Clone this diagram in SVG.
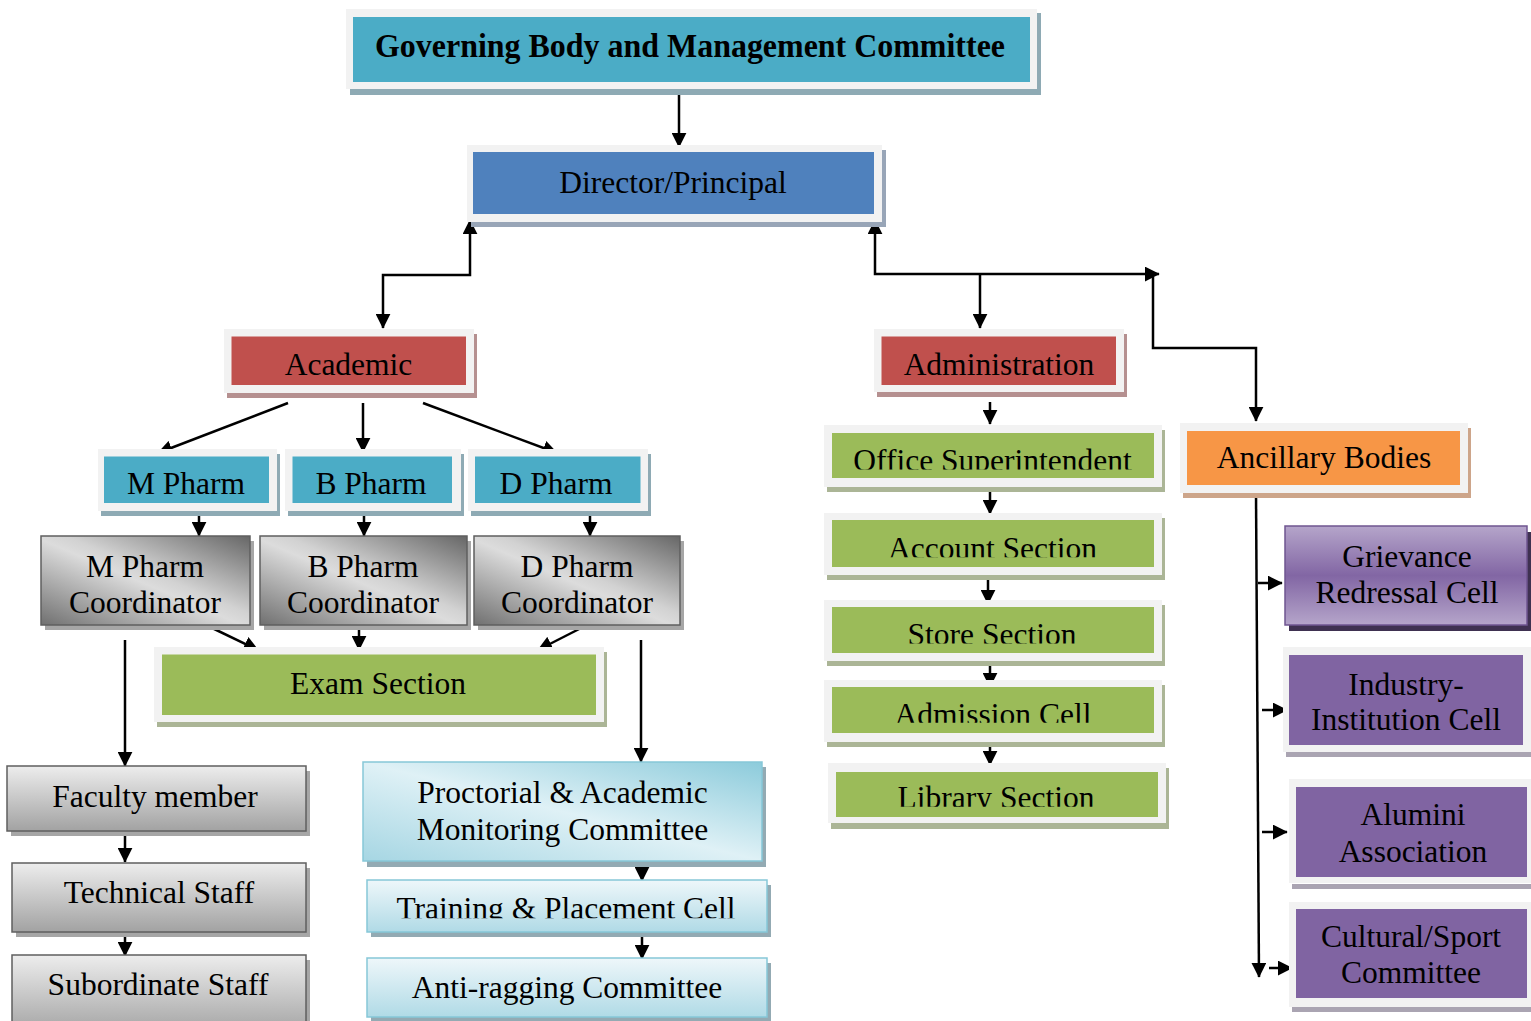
<svg xmlns="http://www.w3.org/2000/svg" width="1531" height="1021" viewBox="0 0 1531 1021">
<style>
text{font-family:"Liberation Serif","Times New Roman",serif;font-size:31.5px;fill:#000;text-anchor:middle}
.title{font-weight:bold;font-size:34px}
.fr{fill:#f2f2f2}
.teal{fill:#4bacc6}.blue{fill:#4f81bd}.red{fill:#c0504d}.green{fill:#9bbb59}.orange{fill:#f79646}.purple{fill:#8064a2}
.shT{fill:#8eaab4}.shB{fill:#98a5b7}.shR{fill:#b59090}.shG{fill:#abb596}.shO{fill:#cda58a}.shP{fill:#aaa4b2}.shK{fill:#a6a6a6}.shC{fill:#93aab3}.shD{fill:#3f3151}
.coord{fill:url(#gCoord);stroke:#5f5f5f;stroke-width:1.5}
.staff{fill:url(#gStaff);stroke:#5f5f5f;stroke-width:1.5}
.proct{fill:url(#gProct);stroke:#86c7d8;stroke-width:1.5}
.train{fill:url(#gTrain);stroke:#86c7d8;stroke-width:1.5}
.griev{fill:url(#gGriev);stroke:#6f5590;stroke-width:1.5}
.ln2{fill:none;stroke:#000;stroke-width:2.5}
</style>
<defs>
<marker id="ah" viewBox="0 0 10 10" refX="9.5" refY="5" markerWidth="6" markerHeight="6" markerUnits="strokeWidth" orient="auto-start-reverse"><path d="M0,0 L10,5 L0,10 z" fill="#000" stroke="none"/></marker>
<linearGradient id="gCoord" x1="0" y1="1" x2="1" y2="0"><stop offset="0" stop-color="#707070"/><stop offset="0.48" stop-color="#dcdcdc"/><stop offset="0.56" stop-color="#d2d2d2"/><stop offset="1" stop-color="#666"/></linearGradient>
<linearGradient id="gStaff" x1="0" y1="0" x2="0" y2="1"><stop offset="0" stop-color="#ededed"/><stop offset="1" stop-color="#a2a2a2"/></linearGradient>
<linearGradient id="gProct" x1="0" y1="1" x2="1" y2="0"><stop offset="0" stop-color="#a6d6e3"/><stop offset="0.5" stop-color="#dff1f6"/><stop offset="1" stop-color="#8ccbdb"/></linearGradient>
<linearGradient id="gTrain" x1="0" y1="0" x2="0" y2="1"><stop offset="0" stop-color="#eef7fa"/><stop offset="1" stop-color="#b0dae6"/></linearGradient>
<linearGradient id="gGriev" x1="0" y1="0" x2="0" y2="1"><stop offset="0" stop-color="#b5a5ca"/><stop offset="0.5" stop-color="#8266a4"/><stop offset="1" stop-color="#b5a5ca"/></linearGradient>
<clipPath id="cOff"><rect x="820" y="420" width="350" height="49.5"/></clipPath>
<clipPath id="cAcc"><rect x="820" y="510" width="350" height="47.3"/></clipPath>
<clipPath id="cSto"><rect x="820" y="596" width="350" height="47.5"/></clipPath>
<clipPath id="cAdm"><rect x="820" y="676" width="350" height="46.8"/></clipPath>
<clipPath id="cLib"><rect x="820" y="760" width="350" height="46.8"/></clipPath>
<clipPath id="cTrn"><rect x="360" y="876" width="410" height="42.3"/></clipPath>
</defs>

<g id="connectors">
<path class="ln2" marker-end="url(#ah)" d="M679,86 L679,147"/>
<path class="ln2" marker-start="url(#ah)" marker-end="url(#ah)" d="M470,220 L470,275 L383,275 L383,328"/>
<path class="ln2" marker-start="url(#ah)" marker-end="url(#ah)" d="M875,220 L875,274 L1159,274"/>
<path class="ln2" marker-end="url(#ah)" d="M980,274 L980,328"/>
<path class="ln2" marker-end="url(#ah)" d="M1153,277 L1153,348 L1256,348 L1256,421"/>
<path class="ln2" marker-end="url(#ah)" d="M288,403 L158,453"/>
<path class="ln2" marker-end="url(#ah)" d="M363,403 L363,452"/>
<path class="ln2" marker-end="url(#ah)" d="M423,403 L557,453"/>
<path class="ln2" marker-end="url(#ah)" d="M199,514 L199,536"/>
<path class="ln2" marker-end="url(#ah)" d="M364,514 L364,536"/>
<path class="ln2" marker-end="url(#ah)" d="M590,514 L590,536"/>
<path class="ln2" marker-end="url(#ah)" d="M208,626 L258,650"/>
<path class="ln2" marker-end="url(#ah)" d="M359,626 L359,650"/>
<path class="ln2" marker-end="url(#ah)" d="M587,625 L538,650"/>
<path class="ln2" marker-end="url(#ah)" d="M125,640 L125,766"/>
<path class="ln2" marker-end="url(#ah)" d="M641,640 L641,762"/>
<path class="ln2" marker-end="url(#ah)" d="M125,831 L125,862"/>
<path class="ln2" marker-end="url(#ah)" d="M125,932 L125,956"/>
<path class="ln2" marker-end="url(#ah)" d="M642,861 L642,881"/>
<path class="ln2" marker-end="url(#ah)" d="M642,932 L642,959"/>
<path class="ln2" marker-end="url(#ah)" d="M990,402 L990,424"/>
<path class="ln2" marker-end="url(#ah)" d="M990,492 L990,514"/>
<path class="ln2" marker-end="url(#ah)" d="M988,580 L988,604"/>
<path class="ln2" marker-end="url(#ah)" d="M990,664 L990,687"/>
<path class="ln2" marker-end="url(#ah)" d="M990,744 L990,765"/>
<path class="ln2" marker-end="url(#ah)" d="M1256,493 L1259,977"/>
<path class="ln2" marker-end="url(#ah)" d="M1258,583 L1282,583"/>
<path class="ln2" marker-end="url(#ah)" d="M1262,710 L1287,710"/>
<path class="ln2" marker-end="url(#ah)" d="M1262,832 L1287,832"/>
<path class="ln2" marker-end="url(#ah)" d="M1269,968 L1292,968"/>
</g>

<g id="governing">
<rect class="shT" x="350" y="13" width="691" height="82"/>
<rect class="fr" x="346" y="9" width="691" height="80"/>
<rect class="teal" x="353" y="17" width="677" height="65"/>
<text class="title" x="690" y="57" textLength="630" lengthAdjust="spacingAndGlyphs">Governing Body and Management Committee</text>
</g>

<g id="director">
<rect class="shB" x="471" y="150" width="415" height="77"/>
<rect class="fr" x="467" y="145" width="415" height="77"/>
<rect class="blue" x="473" y="152" width="401" height="62"/>
<text x="673" y="193">Director/Principal</text>
</g>

<g id="academic">
<rect class="shR" x="227" y="334" width="250" height="64"/>
<rect class="fr" x="224" y="329" width="250" height="64"/>
<rect class="red" x="231.5" y="336.5" width="234.5" height="48.5"/>
<text x="348.5" y="375">Academic</text>
</g>

<g id="administration">
<rect class="shR" x="877" y="334" width="250" height="63"/>
<rect class="fr" x="874" y="329" width="250" height="63"/>
<rect class="red" x="881.5" y="336.5" width="234.5" height="48.5"/>
<text x="999" y="375">Administration</text>
</g>

<g id="mpharm">
<rect class="shT" x="101" y="454" width="179" height="62"/>
<rect class="fr" x="98" y="449" width="179" height="62"/>
<rect class="teal" x="104" y="456.5" width="165" height="46.5"/>
<text x="186" y="494">M Pharm</text>
</g>
<g id="bpharm">
<rect class="shT" x="288" y="454" width="176" height="62"/>
<rect class="fr" x="285" y="449" width="176" height="62"/>
<rect class="teal" x="292.5" y="456.5" width="159.5" height="46.5"/>
<text x="371" y="494">B Pharm</text>
</g>
<g id="dpharm">
<rect class="shT" x="471" y="454" width="180" height="62"/>
<rect class="fr" x="468" y="449" width="180" height="62"/>
<rect class="teal" x="475" y="456.5" width="165.5" height="46.5"/>
<text x="556" y="494">D Pharm</text>
</g>

<g id="mcoord">
<rect class="shK" x="45" y="541" width="209" height="89"/>
<rect class="coord" x="41" y="536" width="209" height="89"/>
<text x="145" y="577">M Pharm</text>
<text x="145" y="613">Coordinator</text>
</g>
<g id="bcoord">
<rect class="shK" x="264" y="541" width="207" height="89"/>
<rect class="coord" x="260" y="536" width="207" height="89"/>
<text x="363" y="577">B Pharm</text>
<text x="363" y="613">Coordinator</text>
</g>
<g id="dcoord">
<rect class="shK" x="478" y="541" width="206" height="89"/>
<rect class="coord" x="474" y="536" width="206" height="89"/>
<text x="577" y="577">D Pharm</text>
<text x="577" y="613">Coordinator</text>
</g>

<g id="exam">
<rect class="shG" x="157" y="652" width="450" height="75"/>
<rect class="fr" x="154" y="647" width="450" height="75"/>
<rect class="green" x="162" y="654.5" width="434" height="60.5"/>
<text x="378" y="694">Exam Section</text>
</g>

<g id="faculty">
<rect class="shK" x="11" y="771" width="299" height="65"/>
<rect class="staff" x="7" y="766" width="299" height="65"/>
<text x="155" y="807">Faculty member</text>
</g>
<g id="technical">
<rect class="shK" x="16" y="868" width="294" height="69"/>
<rect class="staff" x="12" y="863" width="294" height="69"/>
<text x="159" y="903">Technical Staff</text>
</g>
<g id="subordinate">
<rect class="shK" x="16" y="960" width="294" height="80"/>
<rect class="staff" x="12" y="955" width="294" height="80"/>
<text x="158" y="995">Subordinate Staff</text>
</g>

<g id="proctorial">
<rect class="shC" x="367" y="767" width="399" height="100"/>
<rect class="proct" x="363" y="762" width="399" height="99"/>
<text x="562.5" y="803">Proctorial &amp; Academic</text>
<text x="562.5" y="840">Monitoring Committee</text>
</g>
<g id="training">
<rect class="shC" x="371" y="885" width="400" height="52"/>
<rect class="train" x="367" y="880" width="400" height="52"/>
<text x="566" y="919" clip-path="url(#cTrn)">Training &amp; Placement Cell</text>
</g>
<g id="antiragging">
<rect class="shC" x="371" y="963" width="400" height="59"/>
<rect class="train" x="367" y="958" width="400" height="59"/>
<text x="567" y="998">Anti-ragging Committee</text>
</g>

<g id="office">
<rect class="shG" x="827" y="430" width="338" height="62"/>
<rect class="fr" x="824" y="425" width="338" height="62"/>
<rect class="green" x="832" y="433" width="322" height="45"/>
<text x="992.5" y="471" clip-path="url(#cOff)">Office Superintendent</text>
</g>
<g id="account">
<rect class="shG" x="827" y="518" width="338" height="62"/>
<rect class="fr" x="824" y="513" width="338" height="62"/>
<rect class="green" x="832" y="520" width="322" height="47"/>
<text x="992.5" y="559" clip-path="url(#cAcc)">Account Section</text>
</g>
<g id="store">
<rect class="shG" x="827" y="605" width="338" height="61"/>
<rect class="fr" x="824" y="600" width="338" height="61"/>
<rect class="green" x="832" y="607" width="322" height="46"/>
<text x="992" y="644.5" clip-path="url(#cSto)">Store Section</text>
</g>
<g id="admission">
<rect class="shG" x="827" y="685" width="338" height="62"/>
<rect class="fr" x="824" y="680" width="338" height="62"/>
<rect class="green" x="832" y="687" width="322" height="46"/>
<text x="993" y="725" clip-path="url(#cAdm)">Admission Cell</text>
</g>
<g id="library">
<rect class="shG" x="831" y="768" width="338" height="61"/>
<rect class="fr" x="828" y="763" width="338" height="60"/>
<rect class="green" x="836" y="772" width="322" height="45"/>
<text x="996" y="808" clip-path="url(#cLib)">Library Section</text>
</g>

<g id="ancillary">
<rect class="shO" x="1183" y="428" width="288" height="70"/>
<rect class="fr" x="1180" y="423" width="288" height="70"/>
<rect class="orange" x="1187" y="431" width="273" height="54"/>
<text x="1324" y="468">Ancillary Bodies</text>
</g>

<g id="grievance">
<rect class="shD" x="1289" y="532" width="242" height="99"/>
<rect class="griev" x="1285" y="526" width="242" height="99"/>
<text x="1407" y="567">Grievance</text>
<text x="1407" y="603">Redressal Cell</text>
</g>
<g id="industry">
<rect class="shP" x="1286" y="652" width="250" height="105"/>
<rect class="fr" x="1283" y="647" width="250" height="105"/>
<rect class="purple" x="1289" y="655" width="234" height="90"/>
<text x="1406" y="695">Industry-</text>
<text x="1406" y="730">Institution Cell</text>
</g>
<g id="alumini">
<rect class="shP" x="1292" y="884" width="245" height="5"/>
<rect class="fr" x="1289" y="779" width="245" height="104"/>
<rect class="purple" x="1296" y="787" width="231" height="90"/>
<text x="1413" y="825">Alumini</text>
<text x="1413" y="862">Association</text>
</g>
<g id="cultural">
<rect class="shP" x="1292" y="1007" width="245" height="5"/>
<rect class="fr" x="1289" y="902" width="245" height="105"/>
<rect class="purple" x="1296" y="909" width="231" height="89"/>
<text x="1411" y="947">Cultural/Sport</text>
<text x="1411" y="983">Committee</text>
</g>
</svg>
